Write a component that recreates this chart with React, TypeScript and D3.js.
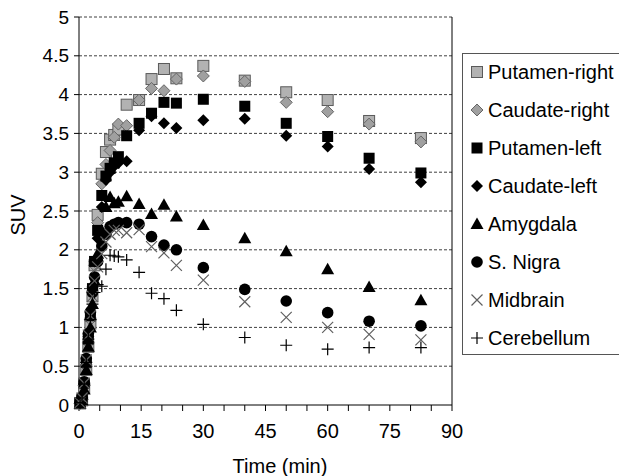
import React from 'react';
import * as d3 from 'd3';

// frame mid-times (min)
const times = [0.25, 0.75, 1.25, 1.75, 2.25, 2.75, 3.25, 3.75, 4.5, 5.5, 6.5, 7.5, 8.5, 9.5, 11.5, 14.5, 17.5, 20.5, 23.5, 30, 40, 50, 60, 70, 82.5];

const putamenRight = [0.02, 0.06, 0.22, 0.45, 0.75, 1.05, 1.4, 1.8, 2.45, 2.98, 3.26, 3.42, 3.48, 3.55, 3.87, 3.93, 4.2, 4.33, 4.21, 4.37, 4.18, 4.03, 3.93, 3.66, 3.44];
const caudateRight = [0.02, 0.07, 0.25, 0.5, 0.8, 1.1, 1.45, 1.8, 2.35, 2.85, 3.1, 3.28, 3.45, 3.62, 3.6, 3.93, 4.08, 4.05, 4.2, 4.24, 4.17, 3.9, 3.78, 3.62, 3.39];
const putamenLeft = [0.03, 0.08, 0.28, 0.55, 0.85, 1.15, 1.5, 1.85, 2.25, 2.7, 2.95, 3.05, 3.12, 3.2, 3.47, 3.63, 3.76, 3.9, 3.89, 3.94, 3.85, 3.63, 3.46, 3.18, 2.99];
const caudateLeft = [0.03, 0.08, 0.27, 0.55, 0.88, 1.2, 1.52, 1.85, 2.15, 2.55, 2.9, 3.0, 3.08, 3.12, 3.14, 3.54, 3.72, 3.63, 3.57, 3.67, 3.69, 3.47, 3.33, 3.04, 2.87];
const amygdala = [0.02, 0.06, 0.2, 0.45, 0.75, 1.0, 1.3, 1.6, 1.95, 2.25, 2.55, 2.68, 2.6, 2.62, 2.69, 2.59, 2.46, 2.58, 2.43, 2.32, 2.15, 1.98, 1.75, 1.52, 1.35];
const sNigra = [0.04, 0.1, 0.3, 0.6, 0.92, 1.2, 1.45, 1.65, 1.85, 2.05, 2.2, 2.3, 2.33, 2.35, 2.35, 2.33, 2.17, 2.06, 2.0, 1.77, 1.49, 1.34, 1.19, 1.08, 1.02];
const midbrain = [0.03, 0.09, 0.28, 0.58, 0.9, 1.15, 1.4, 1.6, 1.78, 1.95, 2.1, 2.2, 2.25, 2.25, 2.22, 2.26, 2.04, 1.96, 1.8, 1.61, 1.33, 1.13, 1.0, 0.91, 0.84];
const cerebellum = [0.03, 0.09, 0.27, 0.55, 0.85, 1.1, 1.3, 1.45, 1.55, 1.53, 1.75, 1.93, 1.92, 1.91, 1.87, 1.71, 1.44, 1.37, 1.22, 1.04, 0.87, 0.77, 0.72, 0.74, 0.74];

const seriesNames = ['Putamen-right', 'Caudate-right', 'Putamen-left', 'Caudate-left', 'Amygdala', 'S. Nigra', 'Midbrain', 'Cerebellum'];
const seriesValues = [putamenRight, caudateRight, putamenLeft, caudateLeft, amygdala, sNigra, midbrain, cerebellum];
const seriesMarkers = ['squareGrey', 'diamondGrey', 'square', 'diamond', 'triangle', 'circle', 'times', 'plus'];

const xTicks = [0, 15, 30, 45, 60, 75, 90];
const yTicks = [0, 0.5, 1, 1.5, 2, 2.5, 3, 3.5, 4, 4.5, 5];

const FONT = 'Liberation Sans, Arial, sans-serif';

function Marker({ type, x, y }: { type: string; x: number; y: number }) {
  switch (type) {
    case 'squareGrey':
      return <rect x={x - 5.5} y={y - 5.5} width={11} height={11} fill="#b2b2b2" stroke="#5a5a5a" strokeWidth={1} />;
    case 'diamondGrey':
      return <path d={`M${x},${y - 6}L${x + 6},${y}L${x},${y + 6}L${x - 6},${y}Z`} fill="#a0a0a0" stroke="#666" strokeWidth={1} />;
    case 'square':
      return <rect x={x - 5.5} y={y - 5.5} width={11} height={11} fill="#000" />;
    case 'diamond':
      return <path d={`M${x},${y - 6}L${x + 6},${y}L${x},${y + 6}L${x - 6},${y}Z`} fill="#000" />;
    case 'triangle':
      return <path d={`M${x},${y - 6.5}L${x + 6.5},${y + 5}L${x - 6.5},${y + 5}Z`} fill="#000" />;
    case 'circle':
      return <circle cx={x} cy={y} r={5.8} fill="#000" />;
    case 'times':
      return <path d={`M${x - 5.5},${y - 5.5}L${x + 5.5},${y + 5.5}M${x + 5.5},${y - 5.5}L${x - 5.5},${y + 5.5}`} stroke="#606060" strokeWidth={1.2} fill="none" />;
    case 'plus':
    default:
      return <path d={`M${x - 6},${y}L${x + 6},${y}M${x},${y - 6}L${x},${y + 6}`} stroke="#000" strokeWidth={1.2} fill="none" />;
  }
}

export default function App() {
  const width = 619;
  const height = 476;
  const x = d3.scaleLinear().domain([0, 90]).range([79, 452]);
  const y = d3.scaleLinear().domain([0, 5]).range([405, 17]);
  const minorTicks = d3.range(0, 91, 5);

  return (
    <svg width={width} height={height} style={{ position: 'absolute', left: 0, top: 0, background: '#fff' }} fontFamily={FONT}>
      <rect width={width} height={height} fill="#fff" />
      {/* gridlines */}
      {yTicks.filter(t => t > 0).map(t => (
        <line key={t} x1={x(0)} x2={x(90)} y1={y(t)} y2={y(t)} stroke="#404040" strokeWidth={1} strokeDasharray="3,2" />
      ))}
      {/* axes */}
      <line x1={x(0)} x2={x(0)} y1={y(0)} y2={y(5)} stroke="#000" />
      <line x1={x(90)} x2={x(90)} y1={y(0)} y2={y(5)} stroke="#000" />
      <line x1={x(0) - 5} x2={x(90)} y1={y(0)} y2={y(0)} stroke="#000" />
      {yTicks.map(t => (
        <g key={t}>
          <line x1={x(0) - 5} x2={x(0)} y1={y(t)} y2={y(t)} stroke="#000" />
          <text x={x(0) - 10} y={y(t)} dy="0.35em" textAnchor="end" fontSize={19}>{t}</text>
        </g>
      ))}
      {minorTicks.map(t => (
        <line key={t} x1={x(t)} x2={x(t)} y1={y(0)} y2={y(0) + 6} stroke="#000" />
      ))}
      {xTicks.map(t => (
        <text key={t} x={x(t)} y={y(0) + 33} textAnchor="middle" fontSize={20}>{t}</text>
      ))}
      <text x={280} y={473} textAnchor="middle" fontSize={20}>Time (min)</text>
      <text transform="translate(25,215) rotate(-90)" textAnchor="middle" fontSize={20}>SUV</text>

      {/* markers */}
      {seriesValues.map((vals, si) => (
        <g key={seriesNames[si]}>
          {vals.map((v, i) => (
            <Marker key={i} type={seriesMarkers[si]} x={x(times[i])} y={y(v)} />
          ))}
        </g>
      ))}

      {/* legend */}
      <rect x={462.5} y={53.5} width={170} height={301} fill="#fff" stroke="#555" strokeWidth={1} />
      {seriesNames.map((name, i) => {
        const ly = 72 + i * 38;
        return (
          <g key={name}>
            <Marker type={seriesMarkers[i]} x={477} y={ly} />
            <text x={488} y={ly} dy="0.35em" fontSize={20}>{name}</text>
          </g>
        );
      })}
    </svg>
  );
}
